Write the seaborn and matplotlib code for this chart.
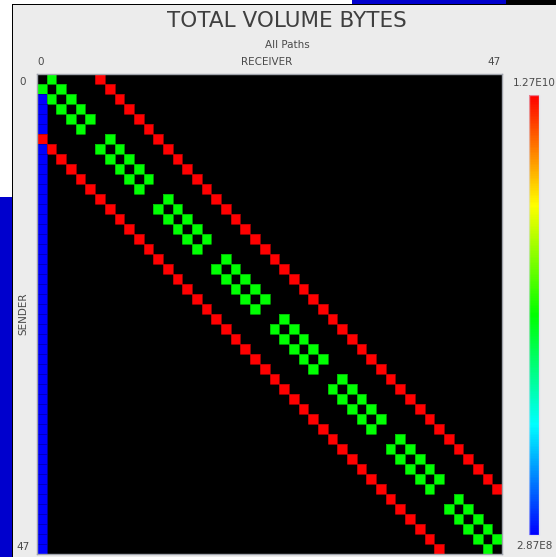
import numpy as np
import pandas as pd
import matplotlib
matplotlib.use("Agg")
import matplotlib.pyplot as plt
import seaborn as sns
from matplotlib.colors import LinearSegmentedColormap
from matplotlib.patches import Rectangle

# ---------------- data ----------------
n_nodes = 48
node_ids = list(range(n_nodes))
vmin_value = 2.87e8
vmax_value = 1.27e10
green_value = 6.49e9
red_value = 1.27e10
blue_value = 2.87e8

green_receivers = [
    [1], [0, 2], [1, 3], [2, 4], [3, 5], [4],
    [7], [6, 8], [7, 9], [8, 10], [9, 11], [10],
    [13], [12, 14], [13, 15], [14, 16], [15, 17], [16],
    [19], [18, 20], [19, 21], [20, 22], [21, 23], [22],
    [25], [24, 26], [25, 27], [26, 28], [27, 29], [28],
    [31], [30, 32], [31, 33], [32, 34], [33, 35], [34],
    [37], [36, 38], [37, 39], [38, 40], [39, 41], [40],
    [43], [42, 44], [43, 45], [44, 46], [45, 47], [46],
]
red_receivers = [
    [6], [7], [8], [9], [10], [11],
    [0, 12], [1, 13], [2, 14], [3, 15], [4, 16], [5, 17],
    [6, 18], [7, 19], [8, 20], [9, 21], [10, 22], [11, 23],
    [12, 24], [13, 25], [14, 26], [15, 27], [16, 28], [17, 29],
    [18, 30], [19, 31], [20, 32], [21, 33], [22, 34], [23, 35],
    [24, 36], [25, 37], [26, 38], [27, 39], [28, 40], [29, 41],
    [30, 42], [31, 43], [32, 44], [33, 45], [34, 46], [35, 47],
    [36], [37], [38], [39], [40], [41],
]
blue_senders = [2, 3, 4, 5, 7, 8, 9, 10, 11, 12, 13, 14, 15, 16, 17, 18, 19,
                20, 21, 22, 23, 24, 25, 26, 27, 28, 29, 30, 31, 32, 33, 34, 35,
                36, 37, 38, 39, 40, 41, 42, 43, 44, 45, 46, 47]
blue_receiver = 0

title_text = "TOTAL VOLUME BYTES"
subtitle_text = "All Paths"
x_label = "RECEIVER"
y_label = "SENDER"
cbar_max_label = "1.27E10"
cbar_min_label = "2.87E8"

# ---------------- build matrix ----------------
mat = np.full((n_nodes, n_nodes), np.nan)
for s, recs in enumerate(green_receivers):
    for r in recs:
        mat[s, r] = green_value
for s, recs in enumerate(red_receivers):
    for r in recs:
        mat[s, r] = red_value
for s in blue_senders:
    mat[s, blue_receiver] = blue_value
df = pd.DataFrame(mat, index=node_ids, columns=node_ids)

# ---------------- figure ----------------
W, H = 556, 557
fig = plt.figure(figsize=(W / 100, H / 100), dpi=100)
fig.patch.set_facecolor("#ececec")

def fx(px):
    return px / W

def fy(py):
    return 1 - py / H

# window decorations from screenshot
deco = [
    (0, 0, 12, 197, "white"),
    (0, 197, 12, H, "#0000cd"),
    (0, 0, 352, 4, "white"),
    (352, 0, 506, 4, "#0000cd"),
    (506, 0, W, 4, "black"),
    (12, 4, 13, H, "black"),
    (12, 4, W, 5, "black"),
]
for x0, y0, x1, y1, c in deco:
    fig.add_artist(Rectangle((fx(x0), fy(y1)), fx(x1) - fx(x0), fy(y0) - fy(y1),
                             transform=fig.transFigure, facecolor=c,
                             edgecolor="none", zorder=0))

ax = fig.add_axes([fx(37), fy(554), fx(502) - fx(37), fy(74) - fy(554)])
cax = fig.add_axes([fx(529), fy(535), fx(539) - fx(529), fy(95) - fy(535)])

cmap = LinearSegmentedColormap.from_list(
    "spectrum", ["#0000ff", "#00ffff", "#00ff00", "#ffff00", "#ff0000"])

sns.heatmap(df, ax=ax, cmap=cmap, vmin=vmin_value, vmax=vmax_value,
            cbar=True, cbar_ax=cax, linewidths=0.6,
            linecolor=(0, 0, 0, 0.25), xticklabels=False, yticklabels=False)
ax.set_facecolor("black")
ax.set_xlabel("")
ax.set_ylabel("")
ax.tick_params(length=0)
for sp in ax.spines.values():
    sp.set_visible(True)
    sp.set_color("#a0a4ac")
    sp.set_linewidth(1.0)

cbar = ax.collections[0].colorbar
cbar.set_ticks([])
cbar.outline.set_edgecolor((0.85, 0.85, 0.95, 0.6))
cbar.outline.set_linewidth(1.0)

txt_color = "#4a4a4a"
fig.text(fx(287), fy(21), title_text, ha="center", va="center",
         fontsize=15.5, color="#3f3f3f")
fig.text(fx(287), fy(45), subtitle_text, ha="center", va="center",
         fontsize=7.5, color=txt_color)
fig.text(fx(267), fy(62), x_label, ha="center", va="center",
         fontsize=7.5, color=txt_color)
fig.text(fx(41), fy(62), str(node_ids[0]), ha="center", va="center",
         fontsize=7.5, color=txt_color)
fig.text(fx(494), fy(62), str(node_ids[-1]), ha="center", va="center",
         fontsize=7.5, color=txt_color)
fig.text(fx(23), fy(82), str(node_ids[0]), ha="center", va="center",
         fontsize=7.5, color=txt_color)
fig.text(fx(23), fy(547), str(node_ids[-1]), ha="center", va="center",
         fontsize=7.5, color=txt_color)
fig.text(fx(23), fy(314), y_label, ha="center", va="center", rotation=90,
         fontsize=7.5, color=txt_color)
fig.text(fx(534), fy(83), cbar_max_label, ha="center", va="center",
         fontsize=7.5, color=txt_color)
fig.text(fx(534), fy(546), cbar_min_label, ha="center", va="center",
         fontsize=7.5, color=txt_color)

fig.savefig("out.png", dpi=100, facecolor=fig.get_facecolor())
